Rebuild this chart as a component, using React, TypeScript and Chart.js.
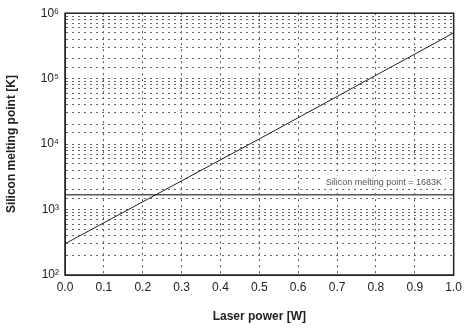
import React, { useEffect, useRef } from "react";
import { Chart, registerables } from "chart.js";
Chart.register(...registerables);

const powerW = [0.0, 0.5, 1.0];
const peakTempK = [300, 12000, 500000];
const meltX = [0.0, 1.0];
const meltK = [1683, 1683];
const xTickLabels = ["0.0", "0.1", "0.2", "0.3", "0.4", "0.5", "0.6", "0.7", "0.8", "0.9", "1.0"];
const yTickLabels: Record<number, string> = { 100: "10²", 1000: "10³", 10000: "10⁴", 100000: "10⁵", 1000000: "10⁶" };
const meltLabel = "Silicon melting point = 1683K";

const framePlugin = {
  id: "frame",
  afterDraw(chart: any) {
    const { ctx, chartArea: a, scales } = chart;
    ctx.save();
    ctx.strokeStyle = "#222";
    ctx.lineWidth = 1.5;
    ctx.strokeRect(a.left, a.top, a.right - a.left, a.bottom - a.top);
    ctx.font = "9px 'Liberation Sans', Arial, sans-serif";
    const xr = scales.x.getPixelForValue(0.97);
    const yb = scales.y.getPixelForValue(1683) - 8;
    const w = ctx.measureText(meltLabel).width;
    ctx.fillStyle = "#fff";
    ctx.fillRect(xr - w - 3, yb - 11, w + 6, 13);
    ctx.fillStyle = "#555";
    ctx.textAlign = "right";
    ctx.textBaseline = "bottom";
    ctx.fillText(meltLabel, xr, yb);
    ctx.restore();
  },
};

export default function App() {
  const ref = useRef<HTMLCanvasElement>(null);
  useEffect(() => {
    document.body.style.margin = "0";
    const chart = new Chart(ref.current!, {
      type: "line",
      data: {
        datasets: [
          {
            data: powerW.map((x, i) => ({ x, y: peakTempK[i] })),
            borderColor: "#222",
            borderWidth: 1,
            pointRadius: 0,
            tension: 0,
          },
          {
            data: meltX.map((x, i) => ({ x, y: meltK[i] })),
            borderColor: "#555",
            borderWidth: 1.3,
            pointRadius: 0,
          },
        ],
      },
      options: {
        animation: false,
        responsive: false,
        layout: { padding: { top: 10, right: 5, left: 0, bottom: 0 } },
        plugins: { legend: { display: false }, tooltip: { enabled: false } },
        scales: {
          x: {
            type: "linear",
            min: 0,
            max: 1,
            afterBuildTicks: (s: any) => {
              s.ticks = xTickLabels.map((_, i) => ({ value: i / 10 }));
            },
            afterFit: (s: any) => {
              s.height = 53;
            },
            ticks: {
              callback: (_v: any, i: number) => xTickLabels[i],
              color: "#222",
              font: { family: "'Liberation Sans', Arial, sans-serif", size: 12 },
              maxRotation: 0,
              padding: 5,
            },
            grid: { color: "#555", lineWidth: 1, drawTicks: false },
            border: { display: true, color: "#222", dash: [2, 4] },
            title: {
              display: true,
              text: "Laser power [W]",
              color: "#222",
              font: { family: "'Liberation Sans', Arial, sans-serif", size: 12, weight: "bold" },
              padding: { top: 6 },
            },
          },
          y: {
            type: "logarithmic",
            min: 100,
            max: 1000000,
            afterFit: (s: any) => {
              s.width = 65;
            },
            ticks: {
              autoSkip: false,
              callback: (v: any) => yTickLabels[Number(v)] ?? "",
              color: "#222",
              font: { family: "'Liberation Sans', Arial, sans-serif", size: 12 },
              padding: 6,
            },
            grid: { color: "#666", lineWidth: 1, drawTicks: false },
            border: { display: true, color: "#222", dash: [2, 4] },
            title: {
              display: true,
              text: "Silicon melting point [K]",
              color: "#222",
              font: { family: "'Liberation Sans', Arial, sans-serif", size: 12, weight: "bold" },
              padding: { bottom: 2 },
            },
          },
        },
      } as any,
      plugins: [framePlugin],
    });
    return () => chart.destroy();
  }, []);
  return (
    <div style={{ width: 467, height: 328 }}>
      <canvas ref={ref} width={467} height={328} />
    </div>
  );
}
